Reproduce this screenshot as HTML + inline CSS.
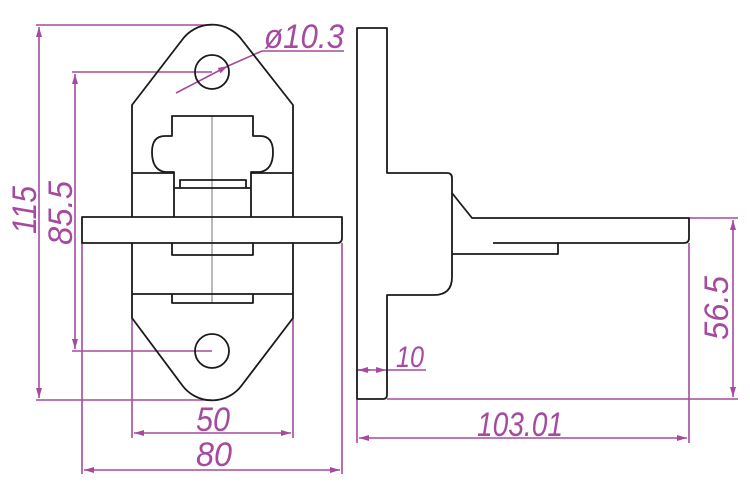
<!DOCTYPE html>
<html><head><meta charset="utf-8"><style>html,body{margin:0;padding:0;background:#fff}svg{display:block}</style></head>
<body>
<svg width="750" height="500" viewBox="0 0 750 500" xmlns="http://www.w3.org/2000/svg">
<defs>
<marker id="a" viewBox="0 0 10 6" refX="10" refY="3" markerWidth="10" markerHeight="6" orient="auto-start-reverse" markerUnits="userSpaceOnUse"><path d="M0,0 L10,3 L0,6 z" fill="#a54a9e"/></marker>
</defs>
<g fill="none" stroke="#a54a9e" stroke-width="1.6">
<line x1="36" y1="25" x2="212" y2="25"/><line x1="36" y1="400" x2="212" y2="400"/>
<line x1="39" y1="27" x2="39" y2="398" marker-start="url(#a)" marker-end="url(#a)"/>
<line x1="72" y1="72" x2="212" y2="72"/><line x1="72" y1="351" x2="212" y2="351"/>
<line x1="75" y1="74" x2="75" y2="349" marker-start="url(#a)" marker-end="url(#a)"/>
<line x1="132" y1="318" x2="132" y2="438"/><line x1="293" y1="318" x2="293" y2="438"/>
<line x1="134" y1="433" x2="291" y2="433" marker-start="url(#a)" marker-end="url(#a)"/>
<line x1="82" y1="243" x2="82" y2="474"/><line x1="342" y1="243" x2="342" y2="474"/>
<line x1="84" y1="470" x2="340" y2="470" marker-start="url(#a)" marker-end="url(#a)"/>
<line x1="357" y1="399" x2="357" y2="443"/><line x1="689" y1="243" x2="689" y2="443"/>
<line x1="359" y1="438" x2="687" y2="438" marker-start="url(#a)" marker-end="url(#a)"/>
<line x1="689" y1="218" x2="738" y2="218"/><line x1="387" y1="399" x2="738" y2="399"/>
<line x1="733" y1="220" x2="733" y2="397" marker-start="url(#a)" marker-end="url(#a)"/>
<line x1="357" y1="370" x2="386" y2="370" marker-end="url(#a)"/>
<line x1="358" y1="370" x2="370" y2="370" marker-start="url(#a)"/>
<line x1="386" y1="370" x2="426" y2="370"/>
<line x1="176" y1="93" x2="228" y2="66" marker-end="url(#a)"/>
<line x1="228" y1="66" x2="262" y2="51"/>
<line x1="262" y1="51" x2="344" y2="51"/>
</g>
<g fill="#a54a9e" font-family="Liberation Sans, sans-serif" font-style="italic" font-size="34">
<text x="196" y="431" textLength="34" lengthAdjust="spacingAndGlyphs">50</text>
<text x="196" y="466" textLength="36" lengthAdjust="spacingAndGlyphs">80</text>
<text x="477" y="436" textLength="86" lengthAdjust="spacingAndGlyphs">103.01</text>
<text x="396" y="367" font-size="30" textLength="28" lengthAdjust="spacingAndGlyphs">10</text>
<text x="264" y="48" textLength="80" lengthAdjust="spacingAndGlyphs">ø10.3</text>
<text transform="translate(36,234) rotate(-90)" textLength="48" lengthAdjust="spacingAndGlyphs">115</text>
<text transform="translate(72,245) rotate(-90)" textLength="64" lengthAdjust="spacingAndGlyphs">85.5</text>
<text transform="translate(728,340) rotate(-90)" textLength="64" lengthAdjust="spacingAndGlyphs">56.5</text>
</g>
<g fill="none" stroke="#1a1a1a" stroke-width="1.8" stroke-linejoin="round">
<path d="M132,217 L132,105 L182,40 A37,37 0 0 1 242,40 L293,105 L293,217"/>
<path d="M132,243 L132,318 L182,385 A37,37 0 0 0 242,385 L293,318 L293,243"/>
<circle cx="212" cy="72" r="17"/>
<circle cx="212" cy="351" r="17"/>
<path d="M174,217 L174,172 L165,172 Q152,170 152,152 Q152,136 165,136 L172,136 L172,116 L253,116 L253,136 L260,136 Q273,136 273,152 Q273,170 260,172 L251,172 L251,217"/>
<line x1="132" y1="173" x2="174" y2="173"/><line x1="251" y1="173" x2="293" y2="173"/>
<line x1="174" y1="188" x2="251" y2="188"/>
<path d="M180,188 L180,180 L246,180 L246,188"/>
<path d="M82,217 L342,217 L342,238 Q342,243 337,243 L82,243 Z"/>
<path d="M172,243 L172,255 L253,255 L253,243"/>
<line x1="132" y1="294" x2="293" y2="294"/>
<path d="M172,294 L172,303 L253,303 L253,294"/>
<path d="M387,173 L387,28 L357,28 L357,399 L383,399 Q387,399 387,395 L387,295 L434,295 Q452,295 452,277 L452,178 Q452,173 447,173 Z"/>
<path d="M452,193 L472,218 L689,218 L689,238 Q689,243 684,243 L493,243"/>
<path d="M452,254 L558,254 L558,243"/>
</g>
<line x1="212" y1="116" x2="212" y2="303" stroke="#1a1a1a" stroke-width="0.6"/>
</svg>
</body></html>
